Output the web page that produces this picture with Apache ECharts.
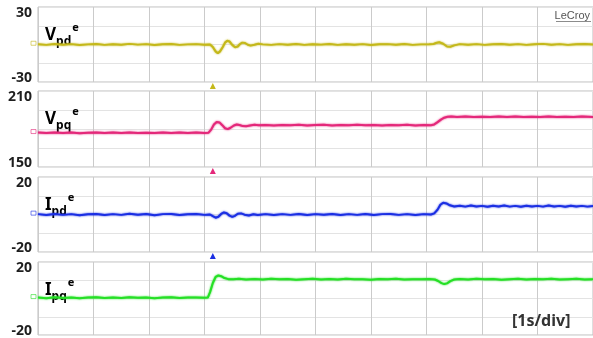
<!DOCTYPE html>
<html><head><meta charset="utf-8">
<script src="https://cdn.jsdelivr.net/npm/echarts@6/dist/echarts.min.js"></script>
<style>html,body{margin:0;padding:0;background:#fff}#c{width:593px;height:338px}</style>
</head><body><div id="c"></div><script>
// Time base: 10 divisions, 1 s per division
const timeRange = [0, 10];

// Per-channel vertical ranges and tick labels
const vpdRange = [-30, 30];
const vpqRange = [150, 210];
const ipdRange = [-20, 20];
const ipqRange = [-20, 20];

// Channel names (main letter, subscript, superscript)
const channelNames = [['V', 'pd', 'e'], ['V', 'pq', 'e'], ['I', 'pd', 'e'], ['I', 'pq', 'e']];

// d-axis voltage [time s, value]
const vpd = [
  [0,0.2],[0.15,-0.3],[0.3,0.4],[0.45,-0.2],[0.6,0.3],[0.75,-0.4],[0.9,0.1],[1.05,0.4],[1.2,-0.3],[1.35,0.2],
  [1.5,-0.2],[1.65,0.5],[1.8,-0.1],[1.95,0.3],[2.1,-0.4],[2.25,0.2],[2.4,0.4],[2.55,-0.3],[2.7,0.1],[2.85,0.3],
  [3.0,-0.2],[3.1,0],[3.15,-2],[3.2,-5.5],[3.24,-7],[3.28,-5.5],[3.33,-2],[3.37,1.5],[3.41,3],[3.45,2.4],
  [3.5,-0.3],[3.55,-2.2],[3.6,-1.6],[3.64,0.4],[3.68,1.5],[3.73,1.2],[3.78,-0.2],[3.83,-0.9],[3.9,-0.2],[3.97,0.6],
  [4.05,0.1],[4.2,-0.3],[4.35,0.3],[4.5,-0.2],[4.65,0.4],[4.8,-0.3],[4.95,0.2],[5.1,-0.1],[5.25,0.4],[5.4,-0.3],
  [5.55,0.2],[5.7,-0.2],[5.85,0.3],[6.0,-0.4],[6.15,0.2],[6.3,0.3],[6.45,-0.2],[6.6,0.4],[6.75,-0.3],[6.9,0.1],
  [7.05,0.2],[7.12,0.3],[7.17,1.2],[7.23,1.8],[7.3,0.6],[7.37,-1.6],[7.43,-1.8],[7.5,-0.7],[7.6,0.3],[7.75,-0.2],
  [7.9,0.3],[8.05,-0.3],[8.2,0.2],[8.35,0.4],[8.5,-0.2],[8.65,0.3],[8.8,-0.3],[8.95,0.2],[9.1,0.5],[9.25,-0.2],
  [9.4,0.3],[9.55,-0.3],[9.7,0.2],[9.85,0.4],[10,0]
];

// q-axis voltage [time s, value]
const vpq = [
  [0,177.2],[0.15,176.8],[0.3,177.3],[0.45,176.9],[0.6,177.2],[0.75,176.7],[0.9,177.1],[1.05,177.3],[1.2,176.8],[1.35,177.2],
  [1.5,176.9],[1.65,177.3],[1.8,176.8],[1.95,177.1],[2.1,176.9],[2.25,177.3],[2.4,176.8],[2.55,177.2],[2.7,176.9],[2.85,177.2],
  [3.0,176.9],[3.07,177],[3.12,179.5],[3.17,183.5],[3.22,185.6],[3.27,185.2],[3.32,183],[3.37,180.6],[3.42,179.9],[3.47,181],
  [3.53,182.8],[3.58,183.6],[3.63,183.2],[3.69,182.3],[3.75,182.1],[3.82,182.8],[3.9,183.3],[3.98,182.9],[4.1,183.2],[4.25,182.8],
  [4.4,183.2],[4.55,182.9],[4.7,183.3],[4.85,182.8],[5.0,183.1],[5.15,183.3],[5.3,182.8],[5.45,183.2],[5.6,182.9],[5.75,183.3],
  [5.9,182.9],[6.05,183.1],[6.2,182.8],[6.35,183.2],[6.5,183],[6.65,183.3],[6.8,182.8],[6.95,183.1],[7.08,183],[7.14,183.6],
  [7.2,185.4],[7.26,187.4],[7.32,188.9],[7.38,189.7],[7.45,189.9],[7.55,189.5],[7.7,189.8],[7.85,189.4],[8.0,189.7],[8.15,189.4],
  [8.3,189.8],[8.45,189.5],[8.6,189.8],[8.75,189.4],[8.9,189.7],[9.05,189.5],[9.2,189.8],[9.35,189.4],[9.5,189.7],[9.65,189.5],
  [9.8,189.8],[10,189.5]
];

// d-axis current [time s, value]
const ipd = [
  [0,0.2],[0.15,-0.3],[0.3,0.3],[0.45,-0.2],[0.6,0.2],[0.75,-0.4],[0.9,0.1],[1.05,0.3],[1.2,-0.3],[1.35,0.2],
  [1.5,-0.2],[1.65,0.4],[1.8,-0.1],[1.95,0.3],[2.1,-0.4],[2.25,0.2],[2.4,0.3],[2.55,-0.3],[2.7,0.1],[2.85,0.3],
  [3.0,-0.2],[3.1,0],[3.15,-0.9],[3.2,-1.7],[3.25,-1.2],[3.3,0.3],[3.35,1.1],[3.4,0.7],[3.45,-0.6],[3.5,-1.3],
  [3.55,-0.7],[3.6,0.4],[3.66,0.6],[3.72,-0.1],[3.8,-0.5],[3.88,0.1],[3.96,-0.3],[4.1,0.2],[4.25,-0.3],[4.4,0.2],
  [4.55,-0.2],[4.7,0.3],[4.85,-0.3],[5.0,0.2],[5.15,-0.1],[5.3,0.3],[5.45,-0.3],[5.6,0.2],[5.75,-0.2],[5.9,0.3],
  [6.05,-0.3],[6.2,0.2],[6.35,0.3],[6.5,-0.2],[6.65,0.2],[6.8,-0.3],[6.95,0.2],[7.08,0],[7.14,0.6],[7.2,2.6],
  [7.25,5.2],[7.3,6.3],[7.36,5.9],[7.42,4.9],[7.5,4.3],[7.6,4.7],[7.7,4.2],[7.8,4.8],[7.9,4.3],[8.0,4.6],
  [8.1,4.1],[8.2,4.7],[8.3,4.3],[8.4,4.8],[8.5,4.2],[8.6,4.6],[8.7,4.1],[8.8,4.7],[8.9,4.3],[9.0,4.6],
  [9.1,4.2],[9.2,4.8],[9.3,4.3],[9.4,4.6],[9.5,4.1],[9.6,4.7],[9.7,4.3],[9.8,4.6],[9.9,4.2],[10,4.5]
];

// q-axis current [time s, value]
const ipq = [
  [0,0.5],[0.15,0.2],[0.3,0.7],[0.45,0.3],[0.6,0.6],[0.75,0.2],[0.9,0.5],[1.05,0.7],[1.2,0.3],[1.35,0.6],
  [1.5,0.3],[1.65,0.7],[1.8,0.4],[1.95,0.6],[2.1,0.2],[2.25,0.5],[2.4,0.7],[2.55,0.3],[2.7,0.5],[2.85,0.6],
  [3.0,0.4],[3.06,0.5],[3.1,3.5],[3.15,8.5],[3.2,11.8],[3.25,12.6],[3.3,12.2],[3.36,11.2],[3.43,10.6],[3.52,10.5],
  [3.62,10.8],[3.75,10.4],[3.9,10.7],[4.05,10.4],[4.2,10.8],[4.35,10.5],[4.5,10.7],[4.65,10.3],[4.8,10.6],[4.95,10.8],
  [5.1,10.4],[5.25,10.7],[5.4,10.4],[5.55,10.8],[5.7,10.5],[5.85,10.6],[6.0,10.3],[6.15,10.7],[6.3,10.5],[6.45,10.8],
  [6.6,10.4],[6.75,10.6],[6.9,10.5],[7.05,10.7],[7.15,10.4],[7.21,9.6],[7.27,8.4],[7.32,7.9],[7.37,8.3],[7.43,9.5],
  [7.5,10.4],[7.6,10.7],[7.75,10.4],[7.9,10.8],[8.05,10.5],[8.2,10.7],[8.35,10.3],[8.5,10.6],[8.65,10.8],[8.8,10.4],
  [8.95,10.7],[9.1,10.5],[9.25,10.8],[9.4,10.4],[9.55,10.6],[9.7,10.8],[9.85,10.4],[10,10.6]
];

// Trigger instant marked under the upper three channels
const triggerTime = 3.15;

const colors = ['#c4b81a', '#e4287a', '#1b2fe3', '#25e025'];
const traces = [vpd, vpq, ipd, ipq];
const ranges = [vpdRange, vpqRange, ipdRange, ipqRange];
const gridTops = [7, 91, 177, 262];
const gridHeights = [75, 76, 75, 76];

const chart = echarts.init(document.getElementById('c'));

const grids = gridTops.map((t, i) => ({
  left: 38, right: 0, top: t, height: gridHeights[i],
  show: true, borderColor: '#bdbdbd', borderWidth: 1, backgroundColor: 'transparent'
}));

const xAxes = gridTops.map((t, i) => ({
  gridIndex: i, type: 'value', min: timeRange[0], max: timeRange[1], interval: 1,
  axisLine: { show: false }, axisTick: { show: false }, axisLabel: { show: false },
  splitLine: { show: true, lineStyle: { color: '#cbcbcb', width: 1 } }
}));

const yAxes = ranges.map((r, i) => {
  const step = (r[1] - r[0]) / 4;
  return {
    gridIndex: i, type: 'value', min: r[0], max: r[1], interval: step,
    axisLine: { show: false }, axisTick: { show: false },
    splitLine: { show: true, lineStyle: { color: '#e3e3e3', width: 1 } },
    axisLabel: {
      show: true, margin: 6,
      formatter: v => v === r[1] ? '{t|' + v + '}' : (v === r[0] ? '{b|' + v + '}' : ''),
      rich: {
        t: { fontFamily: 'Noto Sans', fontWeight: 'bold', fontSize: 14, color: '#1e1e1e', padding: [12, 0, 0, 0] },
        b: { fontFamily: 'Noto Sans', fontWeight: 'bold', fontSize: 14, color: '#1e1e1e', padding: [0, 0, 8, 0] }
      }
    }
  };
});

const series = traces.map((d, i) => ({
  type: 'line', xAxisIndex: i, yAxisIndex: i, data: d, showSymbol: false, silent: true,
  lineStyle: { color: colors[i], width: 2, shadowColor: colors[i], shadowBlur: 2 },
  animation: false
}));

chart.setOption({
  animation: false,
  grid: grids, xAxis: xAxes, yAxis: yAxes, series: series
});

// Annotations positioned from the axes
const g = [];
channelNames.forEach((n, i) => {
  g.push({
    type: 'text', left: 45, top: gridTops[i] + 15,
    style: {
      text: '{m|' + n[0] + '}{s|' + n[1] + '}{p|' + n[2] + '}',
      rich: {
        m: { fontFamily: 'Noto Sans', fontWeight: 'bold', fontSize: 17, color: '#1a1a1a', verticalAlign: 'bottom', lineHeight: 22 },
        s: { fontFamily: 'Noto Sans', fontWeight: 'bold', fontSize: 12, color: '#1a1a1a', verticalAlign: 'bottom', lineHeight: 22, padding: [0, 0, -4, 0] },
        p: { fontFamily: 'Noto Sans', fontWeight: 'bold', fontSize: 11, color: '#1a1a1a', verticalAlign: 'top', lineHeight: 22, padding: [0, 0, 0, 1] }
      }
    }
  });
  // channel offset marker at the left edge
  const lvl = traces[i][0][1];
  const p = chart.convertToPixel({ xAxisIndex: i, yAxisIndex: i }, [0, lvl]);
  g.push({
    type: 'rect', shape: { x: p[0] - 7, y: p[1] - 3, width: 5, height: 4 },
    style: { fill: 'none', stroke: colors[i], lineWidth: 1, opacity: 0.6 }
  });
});
// trigger markers between panels
[0, 1, 2].forEach(i => {
  const x = chart.convertToPixel({ xAxisIndex: i }, triggerTime);
  const yb = gridTops[i] + gridHeights[i] + 7;
  g.push({
    type: 'polygon', shape: { points: [[x - 3, yb], [x + 3, yb], [x, yb - 6]] },
    style: { fill: colors[i] }
  });
});
g.push({
  type: 'text', right: 3, top: 10,
  style: { text: 'LeCroy', fontFamily: 'Liberation Sans', fontSize: 11, fill: '#555' }
});
g.push({
  type: 'rect', shape: { x: 556, y: 21, width: 35, height: 0.8 }, style: { fill: '#666' }
});
g.push({
  type: 'text', left: 512, top: 313,
  style: { text: '[1s/div]', fontFamily: 'Noto Sans', fontWeight: 'bold', fontSize: 16, fill: '#333' }
});
chart.setOption({ graphic: g });
</script></body></html>
